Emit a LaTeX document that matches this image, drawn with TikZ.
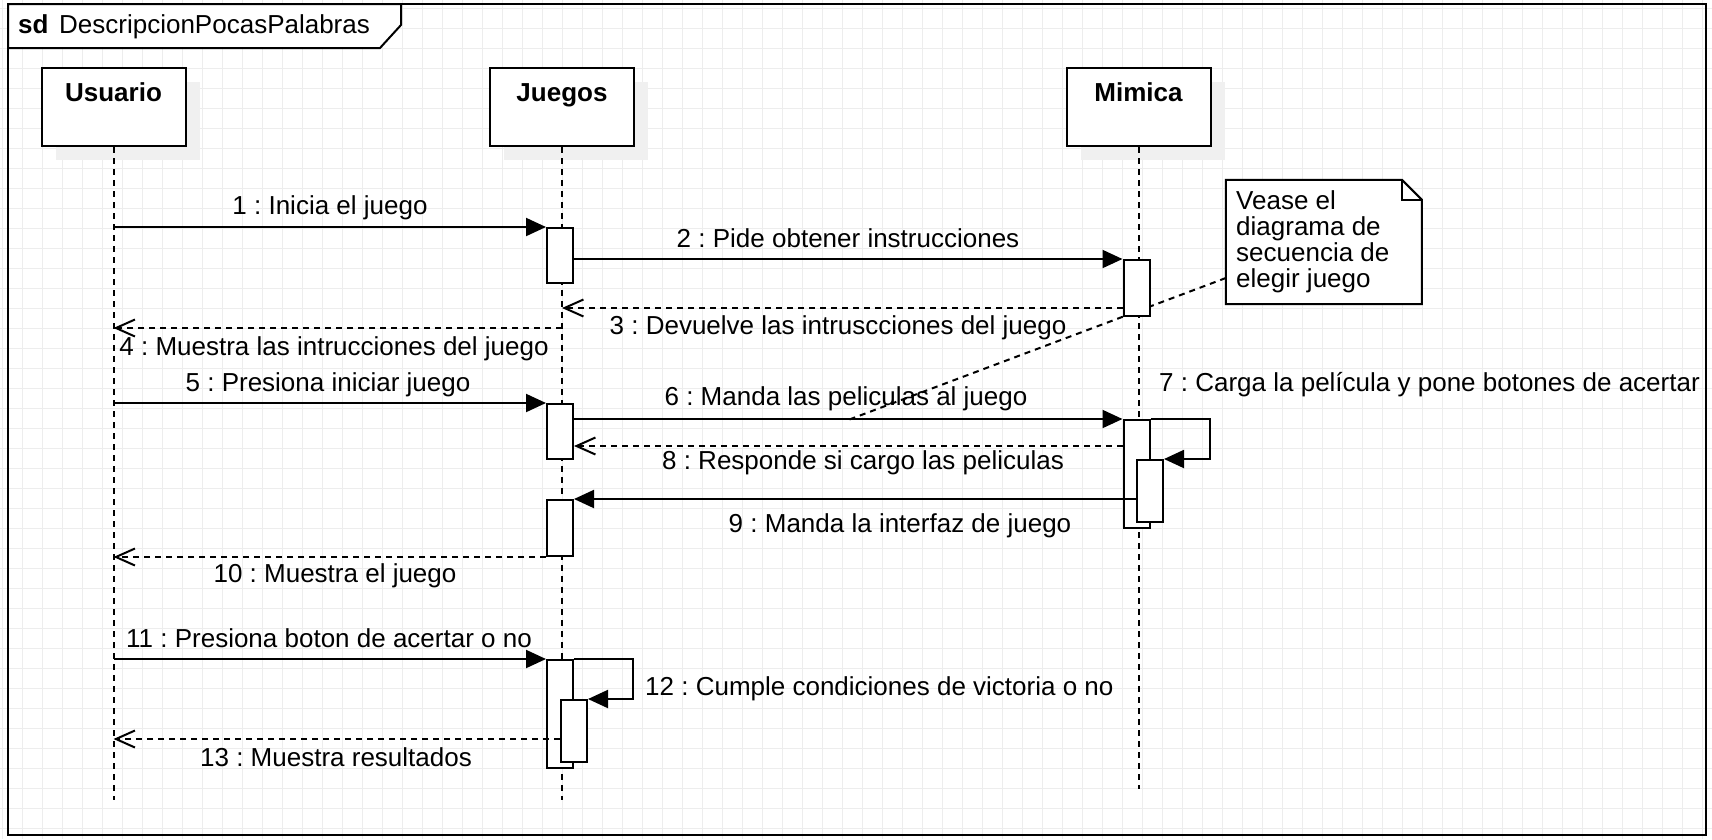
\documentclass[tikz,border=0pt]{standalone}
\usepackage{fontspec}
\setmainfont{Liberation Sans}
\usetikzlibrary{arrows.meta,shadows,calc}
\definecolor{gridc}{HTML}{EDEDED}
\definecolor{shadowc}{HTML}{F0F0F0}
\frenchspacing
\begin{document}
\begin{tikzpicture}[x=1pt,y=-1pt,
  gridline/.style={draw=gridc, line width=1pt},
  framel/.style={draw=black, line width=2.5pt},
  tabl/.style={draw=black, line width=2pt, fill=white},
  lbl/.style={font=\fontsize{26}{31}\selectfont\frenchspacing, inner sep=0pt, anchor=base},
  head/.style={draw=black, line width=2pt, fill=white, minimum width=144, minimum height=78, inner sep=0pt,
    drop shadow={shadow xshift=14pt, shadow yshift=-14pt, opacity=1, fill=shadowc}},
  lifeline/.style={draw=black, line width=2pt, dash pattern=on 6pt off 5pt},
  act/.style={draw=black, line width=2pt, fill=white, minimum width=26, inner sep=0pt},
  msg/.style={draw=black, line width=2pt, -{Triangle[length=20pt,width=18pt]}},
  ret/.style={draw=black, line width=2pt, dash pattern=on 6pt off 5pt, -{Straight Barb[length=19pt,width=17pt]}},
  notelink/.style={draw=black, line width=2pt, dash pattern=on 6pt off 5pt},
  notebox/.style={minimum width=195.7, minimum height=124, inner sep=0pt},
  noteline/.style={draw=black, line width=2pt, fill=white}
]
\useasboundingbox (0,0) rectangle (1712,839);
\fill[white] (0,0) rectangle (1712,839);
\foreach \x in {2,22,...,1702} \draw[gridline] (\x,0) -- (\x,839);
\foreach \y in {8,28,...,828} \draw[gridline] (0,\y) -- (1712,\y);

% frame
\draw[framel] (8,4) rectangle (1706,835);
\draw[tabl] (8,4) -- (401,4) -- (401,25) -- (380,48) -- (8,48) -- cycle;
\node[lbl, anchor=base west] (sdk) at (18,33) {\bfseries sd};
\node[lbl, anchor=base west] (sdname) at (59,33) {DescripcionPocasPalabras};

% heads
\node[head] (usr) at (113.5,107) {};
\node[head] (jue) at (562,107) {};
\node[head] (mim) at (1138.5,107) {};
\node[lbl] (usrt) at (113.5,101.7) {\bfseries Usuario};
\node[lbl] (juet) at (562,101.7) {\bfseries Juegos};
\node[lbl] (mimt) at (1138.5,101.7) {\bfseries Mimica};

% lifelines
\coordinate (usrend) at (113.5,800);
\coordinate (jueend) at (562,800);
\coordinate (mimend) at (1138.5,789);
\draw[lifeline] (usr.south) -- (usrend);
\draw[lifeline] (jue.south) -- (jueend);
\draw[lifeline] (mim.south) -- (mimend);

% note
\node[notebox] (note) at (1323.85,242) {};
\coordinate (nly) at (0,278);
\coordinate (c6) at (848,420);
\draw[notelink] (note.west |- nly) -- (c6);

% activations
\node[act, minimum height=55] (a1) at (560,255.5) {};
\node[act, minimum height=56] (m1) at (1136.5,288) {};
\node[act, minimum height=55] (a2) at (560,431.5) {};
\node[act, minimum height=108] (m2) at (1136.5,474) {};
\node[act, minimum height=62] (m3) at (1150,491) {};
\node[act, minimum height=56] (a3) at (560,528) {};
\node[act, minimum height=108] (a4) at (560,714) {};
\node[act, minimum height=62] (a5) at (574,731) {};

% level coordinates
\coordinate (y3) at (0,308);
\coordinate (y4) at (0,328);
\coordinate (y8) at (0,446);
\coordinate (y13) at (0,739);
\coordinate (x7) at (1210,440);
\coordinate (x12) at (633,680);

% messages
\draw[msg] (usr |- a1.north) -- (a1.north west);
\draw[msg] (a1.east |- m1.north) -- (m1.north west);
\draw[ret] (m1.west |- y3) -- (jue |- y3);
\draw[ret] (jue |- y4) -- (usr |- y4);
\draw[msg] (usr |- a2.north) -- (a2.north west);
\draw[msg] (a2.east |- m2.north) -- (m2.north west);
\draw[msg] (m2.north east) -| (x7) |- (m3.north east);
\draw[ret] (m2.west |- y8) -- (a2.east |- y8);
\draw[msg] (m3.west |- a3.north) -- (a3.north east);
\draw[ret] (a3.south west) -- (usr |- a3.south);
\draw[msg] (usr |- a4.north) -- (a4.north west);
\draw[msg] (a4.north east) -| (x12) |- (a5.north east);
\draw[ret] (a5.west |- y13) -- (usr |- y13);

% labels
\node[lbl] (l1) at (330,214) {1 : Inicia el juego};
\node[lbl] (l2) at (848,247) {2 : Pide obtener instrucciones};
\node[lbl] (l3) at (838,334) {3 : Devuelve las intruscciones del juego};
\node[lbl] (l4) at (334,355) {4 : Muestra las intrucciones del juego};
\node[lbl] (l5) at (328,391) {5 : Presiona iniciar juego};
\node[lbl] (l6) at (846,405) {6 : Manda las peliculas al juego};
\node[lbl, anchor=base west] (l7) at (1159,391) {7 : Carga la película y pone botones de acertar};
\node[lbl] (l8) at (863,469) {8 : Responde si cargo las peliculas};
\node[lbl] (l9) at (900,532) {9 : Manda la interfaz de juego};
\node[lbl] (l10) at (335,582) {10 : Muestra el juego};
\node[lbl] (l11) at (329,647) {11 : Presiona boton de acertar o no};
\node[lbl, anchor=base west] (l12) at (645,695) {12 : Cumple condiciones de victoria o no};
\node[lbl] (l13) at (336,766) {13 : Muestra resultados};

% note shape and text
\draw[noteline] (note.north west) -- ($(note.north east)+(-20,0)$) -- ($(note.north east)+(0,20)$) -- (note.south east) -- (note.south west) -- cycle;
\draw[noteline, fill=none] ($(note.north east)+(-20,0)$) -- ($(note.north east)+(-20,20)$) -- ($(note.north east)+(0,20)$);
\node[lbl, anchor=north west, align=left, font=\fontsize{26}{26}\selectfont] (notetxt) at (1236,190) {Vease el\\diagrama de\\secuencia de\\elegir juego};
\end{tikzpicture}
\end{document}
